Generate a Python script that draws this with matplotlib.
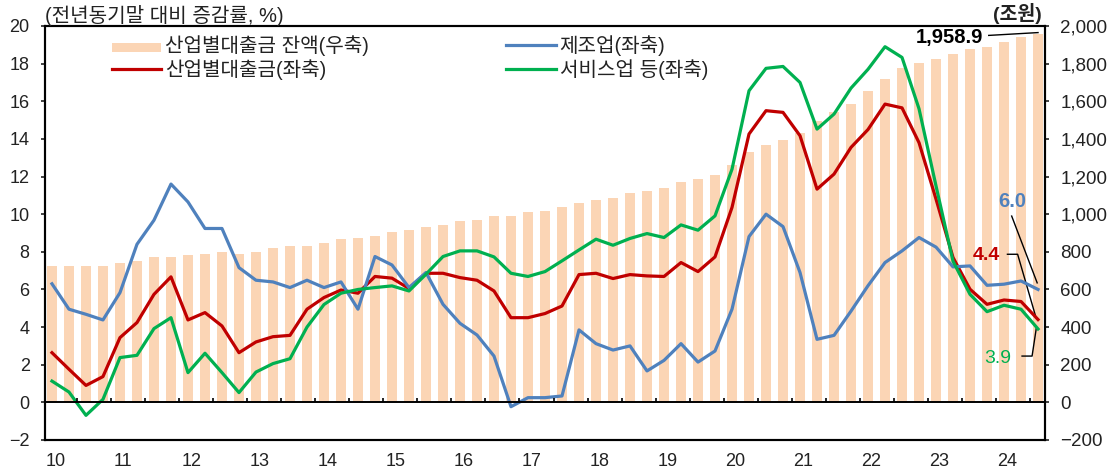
import numpy as np
import matplotlib
matplotlib.use("Agg")
import matplotlib.pyplot as plt

plt.rcParams['font.family'] = ['Liberation Sans', 'Noto Sans CJK KR', 'DejaVu Sans']
plt.rcParams['axes.unicode_minus'] = True

# 2010Q1 ~ 2024Q3, quarterly
years = ['10', '11', '12', '13', '14', '15', '16', '17', '18', '19', '20', '21', '22', '23', '24']

# 산업별대출금 잔액 (조원, right axis)
balance = [725, 725, 725, 725, 743, 752, 773, 773, 782, 791,
           800, 791, 800, 819, 830, 830, 847, 867, 876, 885,
           906, 915, 932, 941, 963, 970, 991, 991, 1009, 1018,
           1039, 1057, 1074, 1085, 1113, 1122, 1140, 1170, 1188, 1209,
           1264, 1330, 1367, 1395, 1434, 1496, 1541, 1585, 1653, 1718,
           1775, 1803, 1823, 1851, 1878, 1890, 1916, 1943, 1958.9]

# 제조업 (%, left axis)
manuf = [6.3, 4.95, 4.68, 4.38, 5.83, 8.40, 9.68, 11.6, 10.65, 9.24,
         9.24, 7.16, 6.49, 6.40, 6.10, 6.49, 6.10, 6.40, 4.95, 7.75,
         7.3, 6.10, 6.9, 5.21, 4.20, 3.58, 2.46, -0.23, 0.25, 0.25,
         0.34, 3.85, 3.12, 2.78, 3.0, 1.67, 2.23, 3.12, 2.14, 2.73,
         4.95, 8.81, 10.0, 9.34, 6.90, 3.35, 3.56, 4.85, 6.2, 7.43,
         8.05, 8.76, 8.25, 7.2, 7.25, 6.22, 6.28, 6.45, 6.0]

# 산업별대출금 (%, left axis)
total = [2.64, 1.76, 0.90, 1.37, 3.44, 4.24, 5.74, 6.67, 4.38, 4.77,
         4.06, 2.64, 3.21, 3.49, 3.56, 4.95, 5.57, 5.97, 5.80, 6.69,
         6.60, 6.05, 6.86, 6.86, 6.63, 6.49, 5.92, 4.50, 4.50, 4.72,
         5.12, 6.79, 6.86, 6.58, 6.79, 6.72, 6.69, 7.43, 6.95, 7.73,
         10.36, 14.26, 15.5, 15.41, 14.17, 11.33, 12.13, 13.55, 14.5, 15.85,
         15.65, 13.8, 10.8, 7.7, 6.01, 5.21, 5.44, 5.36, 4.4]

# 서비스업 등 (%, left axis)
service = [1.13, 0.55, -0.69, 0.16, 2.38, 2.50, 3.92, 4.50, 1.58, 2.61,
           1.58, 0.52, 1.61, 2.06, 2.32, 4.0, 5.2, 5.8, 6.0, 6.1,
           6.19, 5.92, 6.81, 7.75, 8.05, 8.05, 7.73, 6.86, 6.69, 6.95,
           7.52, 8.10, 8.67, 8.35, 8.71, 8.97, 8.76, 9.43, 9.15, 9.91,
           12.39, 16.56, 17.75, 17.85, 17.0, 14.52, 15.32, 16.7, 17.7, 18.9,
           18.33, 15.6, 11.5, 7.5, 5.74, 4.82, 5.16, 4.95, 3.9]

x = np.arange(len(balance))

fig = plt.figure(figsize=(11.2, 4.75), dpi=100)
ax = fig.add_axes([45/1120, 1-440/475, 1000/1120, 414/475])
ax2 = ax.twinx()
ax.set_zorder(ax2.get_zorder() + 1)
ax.patch.set_visible(False)

bars = ax2.bar(x, balance, width=0.55, color='#FBD5B5', zorder=1,
               label='산업별대출금 잔액(우축)')
l_total, = ax.plot(x, total, color='#C00000', lw=2.3, label='산업별대출금(좌축)', zorder=3)
l_man, = ax.plot(x, manuf, color='#4F81BD', lw=2.3, label='제조업(좌축)', zorder=3)
l_srv, = ax.plot(x, service, color='#00B050', lw=2.3, label='서비스업 등(좌축)', zorder=3)

ax.axhline(0, color='black', lw=1.4, zorder=4)
ax.vlines(np.arange(1.5, len(x), 2), 0, 0.22, color='black', lw=1.2, zorder=4)

ax.set_xlim(-0.41, 58.41)
ax.set_ylim(-2, 20)
ax2.set_ylim(-200, 2000)
ax.set_yticks(np.arange(-2, 21, 2))
ax2.set_yticks(np.arange(-200, 2001, 200))
ax2.set_yticklabels([f'{v:,}'.replace('-', '\u2212') for v in range(-200, 2001, 200)])
ax.set_xticks(np.arange(len(years)) * 4 + 0.2)
ax.set_xticklabels(years)

ax.tick_params(axis='y', direction='out', length=3, width=1.2, pad=8, labelsize=13, colors='#222222')
ax2.tick_params(axis='y', direction='out', length=3, width=1.2, pad=8, labelsize=13.5, colors='#222222')
ax.tick_params(axis='x', length=0, pad=9, labelsize=13, colors='#222222')
for a in (ax, ax2):
    for s in a.spines.values():
        s.set_linewidth(1.5)
        s.set_color('black')

# legend
leg = ax.legend([bars, l_total, l_man, l_srv],
                ['산업별대출금 잔액(우축)', '산업별대출금(좌축)', '제조업(좌축)', '서비스업 등(좌축)'],
                ncol=2, loc='upper left', bbox_to_anchor=(112/1120, 1-35/475),
                bbox_transform=fig.transFigure, frameon=False, fontsize=14.5,
                handlelength=2.45, handletextpad=0.2, labelspacing=0.15,
                columnspacing=6.8, borderpad=0, borderaxespad=0)
for t in leg.get_texts():
    t.set_color('#222222')
leg.legend_handles[0].set_height(6)

# titles
fig.text(45/1120, 1-15/475, '(전년동기말 대비 증감률, %)', fontsize=14.5, va='center', ha='left',
         color='#222222')
fig.text(1017/1120, 1-13/475, '(조원)', fontsize=14, va='center', ha='center',
         fontweight='bold', color='#222222')

# annotations
ax.text(54.75, 19.4, '1,958.9', fontsize=14.5, fontweight='bold', ha='right', va='center')
ax.plot([55.1, 58.0], [19.5, 19.65], color='black', lw=1)

ax.text(56.5, 10.7, '6.0', fontsize=14.5, fontweight='bold', ha='center', va='center', color='#4F81BD')
ax.plot([56.45, 57.95], [9.9, 6.35], color='black', lw=1)

ax.text(54.95, 7.8, '4.4', fontsize=14, fontweight='bold', ha='center', va='center', color='#C00000')
ax.plot([56.2, 56.8, 57.85], [7.87, 7.87, 4.6], color='black', lw=1)

ax.text(55.6, 2.34, '3.9', fontsize=14, ha='center', va='center', color='#00B050')
ax.plot([57.06, 57.65, 57.9], [2.46, 2.46, 3.95], color='black', lw=1)

fig.savefig('out.png', dpi=100)
